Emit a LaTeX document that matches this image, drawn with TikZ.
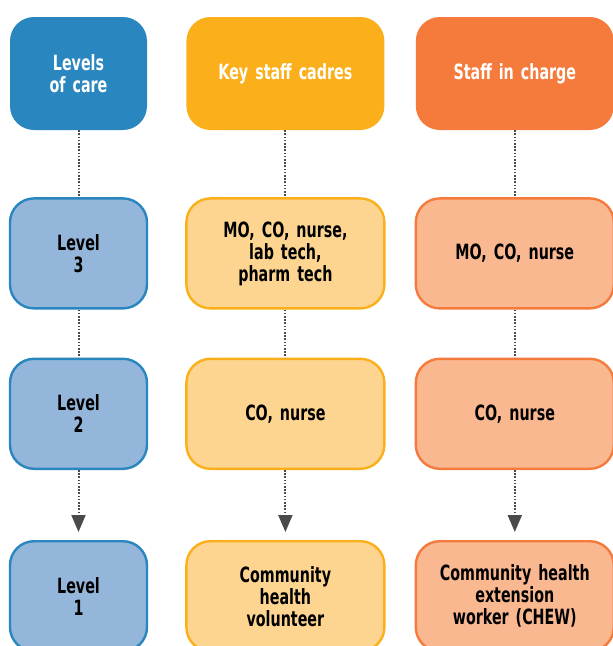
\documentclass[tikz,border=0pt]{standalone}
\usepackage{fontspec}
\newfontfamily\boxfont{DejaVu Sans}[FakeStretch=0.68, WordSpace=0.75]
\usepackage{xcolor}
\usetikzlibrary{arrows.meta, positioning}

\definecolor{careblue}{HTML}{2A86BE}
\definecolor{careblueL}{HTML}{93B6DA}
\definecolor{cadreamber}{HTML}{FBB01B}
\definecolor{cadreamberL}{HTML}{FDD590}
\definecolor{chargeorange}{HTML}{F47B3C}
\definecolor{chargeorangeL}{HTML}{FAB891}
\definecolor{linkgray}{HTML}{4A4A4A}

\tikzset{
  box/.style={rounded corners=24pt, align=center, inner sep=0pt,
    font=\boxfont\bfseries\fontsize{21}{22}\selectfont},
  hdr/.style={box, text=white, minimum height=113pt},
  cell/.style={box, draw, line width=2.4pt, text=black, minimum height=110pt},
  narrowcol/.style={minimum width=137pt, text width=130pt},
  widecol/.style={minimum width=198pt, text width=190pt},
  link/.style={linkgray, line width=2pt, dash pattern=on 1.5pt off 1.7pt},
  linkarrow/.style={link, -{Triangle[width=14pt,length=17pt]}, shorten >=8pt}
}

\begin{document}
\begin{tikzpicture}[x=1pt, y=-1pt]
\useasboundingbox (0,0) rectangle (613,646);

% headers
\node[hdr, narrowcol, fill=careblue] (levels) at (78.5,73.5) {Levels\\of care};
\node[hdr, widecol, fill=cadreamber, right=39pt of levels] (cadres) {Key staff cadres};
\node[hdr, widecol, fill=chargeorange, right=31pt of cadres] (charge) {Staff in charge};

% level 3
\node[cell, narrowcol, draw=careblue, fill=careblueL, below=67pt of levels] (lvl3) {Level\\3};
\node[cell, widecol, draw=cadreamber, fill=cadreamberL, below=67pt of cadres] (cad3) {MO, CO, nurse,\\lab tech,\\pharm tech};
\node[cell, widecol, draw=chargeorange, fill=chargeorangeL, below=67pt of charge] (chg3) {MO, CO, nurse};

% level 2
\node[cell, narrowcol, draw=careblue, fill=careblueL, below=48pt of lvl3] (lvl2) {Level\\2};
\node[cell, widecol, draw=cadreamber, fill=cadreamberL, below=48pt of cad3] (cad2) {CO, nurse};
\node[cell, widecol, draw=chargeorange, fill=chargeorangeL, below=48pt of chg3] (chg2) {CO, nurse};

% level 1
\node[cell, narrowcol, draw=careblue, fill=careblueL, below=70pt of lvl2] (lvl1) {Level\\1};
\node[cell, widecol, draw=cadreamber, fill=cadreamberL, below=70pt of cad2] (cad1) {Community\\health\\volunteer};
\node[cell, widecol, draw=chargeorange, fill=chargeorangeL, below=70pt of chg2] (chg1) {Community health\\extension\\worker (CHEW)};

% dotted links
\foreach \a/\b in {levels/lvl3, lvl3/lvl2, cadres/cad3, cad3/cad2, charge/chg3, chg3/chg2}
  \draw[link] (\a) -- (\b);
\foreach \a/\b in {lvl2/lvl1, cad2/cad1, chg2/chg1}
  \draw[linkarrow] (\a) -- (\b);
\end{tikzpicture}
\end{document}
